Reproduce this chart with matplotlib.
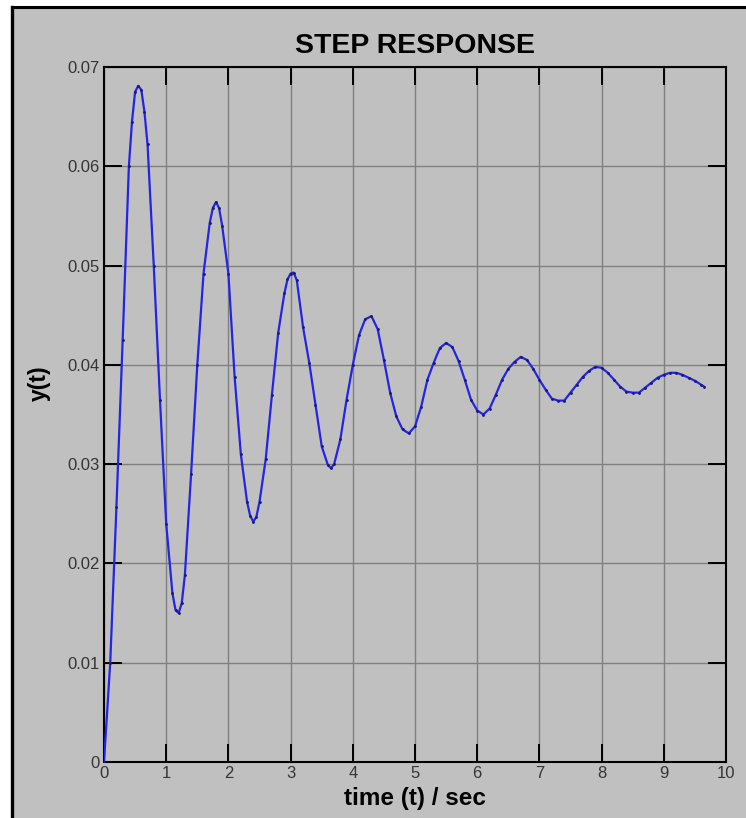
import matplotlib
matplotlib.use('Agg')
import matplotlib.pyplot as plt
from matplotlib.patches import Rectangle
from matplotlib.lines import Line2D

plt.rcParams['font.family'] = ['Liberation Sans', 'DejaVu Sans']

t = [0.0, 0.1, 0.2, 0.3, 0.4, 0.45, 0.5, 0.55, 0.6, 0.65, 0.7, 0.8, 0.9,
     1.0, 1.1, 1.15, 1.2, 1.25, 1.3, 1.4, 1.5, 1.6, 1.7, 1.75, 1.8, 1.85, 1.9,
     2.0, 2.1, 2.2, 2.3, 2.35, 2.4, 2.45, 2.5, 2.6, 2.7, 2.8, 2.9, 2.95,
     3.0, 3.05, 3.1, 3.2, 3.3, 3.4, 3.5, 3.6, 3.65, 3.7, 3.8, 3.9,
     4.0, 4.1, 4.2, 4.3, 4.4, 4.5, 4.6, 4.7, 4.8, 4.9,
     5.0, 5.1, 5.2, 5.3, 5.4, 5.5, 5.6, 5.7, 5.8, 5.9,
     6.0, 6.1, 6.2, 6.3, 6.4, 6.5, 6.6, 6.7, 6.8, 6.9,
     7.0, 7.1, 7.2, 7.3, 7.4, 7.5, 7.6, 7.7, 7.8, 7.9,
     8.0, 8.1, 8.2, 8.3, 8.4, 8.5, 8.6, 8.7, 8.8, 8.9,
     9.0, 9.1, 9.2, 9.3, 9.4, 9.5, 9.6, 9.65]
y = [0.0, 0.0100, 0.0257, 0.0425, 0.0600, 0.0645, 0.0675, 0.0681, 0.0677, 0.0655, 0.0622, 0.0500, 0.0365,
     0.0240, 0.0170, 0.0153, 0.0150, 0.0160, 0.0188, 0.0290, 0.0400, 0.0492, 0.0543, 0.0558, 0.0564, 0.0558, 0.0540,
     0.0492, 0.0388, 0.0310, 0.0262, 0.0248, 0.0242, 0.0247, 0.0262, 0.0305, 0.0370, 0.0432, 0.0472, 0.0486,
     0.0492, 0.0493, 0.0485, 0.0438, 0.0402, 0.0360, 0.0318, 0.0299, 0.0296, 0.0300, 0.0325, 0.0365,
     0.0400, 0.0430, 0.0446, 0.0449, 0.0436, 0.0405, 0.0372, 0.0348, 0.0335, 0.0331,
     0.0338, 0.0358, 0.0385, 0.0402, 0.0417, 0.0422, 0.0418, 0.0404, 0.0385, 0.0365,
     0.0354, 0.0350, 0.0356, 0.0370, 0.0385, 0.0396, 0.0403, 0.0408, 0.0405, 0.0396,
     0.0385, 0.0375, 0.0366, 0.0364, 0.0364, 0.0372, 0.0380, 0.0388, 0.0394, 0.0398,
     0.0397, 0.0392, 0.0385, 0.0378, 0.0373, 0.0372, 0.0372, 0.0377, 0.0382, 0.0387,
     0.0390, 0.0392, 0.0392, 0.0390, 0.0387, 0.0384, 0.0380, 0.0378]

x_ticks = [0, 1, 2, 3, 4, 5, 6, 7, 8, 9, 10]
y_ticks = [0, 0.01, 0.02, 0.03, 0.04, 0.05, 0.06, 0.07]
y_tick_labels = ['0', '0.01', '0.02', '0.03', '0.04', '0.05', '0.06', '0.07']

################## figure / window frame ##################################
W, H = 746, 818
fig = plt.figure(figsize=(W / 100, H / 100), dpi=100)
fig.patch.set_facecolor('white')
bg = '#c0c0c0'
fig.patches.append(Rectangle((11 / W, 0), 1 - 11 / W, 1 - 7 / H,
                             transform=fig.transFigure, facecolor=bg,
                             edgecolor='none', zorder=-5))
fig.lines.append(Line2D([12 / W, 1], [1 - 7 / H, 1 - 7 / H], transform=fig.transFigure,
                        color='black', lw=2.2, zorder=-4))
fig.lines.append(Line2D([12 / W, 12 / W], [0, 1 - 7 / H], transform=fig.transFigure,
                        color='black', lw=2.4, zorder=-4))

################## axes ###################################################
ax = fig.add_axes([104 / W, 56 / H, 622 / W, 695 / H])
ax.set_facecolor(bg)
ax.plot(t, y, '-', color='#2424e4', lw=1.6, marker='o', markersize=1.0,
        markerfacecolor='#1a1a60', markeredgecolor='#1a1a60', zorder=3)

ax.set_xlim(0, 10)
ax.set_ylim(0, 0.07)
ax.set_xticks(x_ticks)
ax.set_yticks(y_ticks)
ax.set_yticklabels(y_tick_labels)
ax.grid(True, color='#808080', lw=1.0)
ax.tick_params(direction='in', length=13, width=1.4, top=True, right=True,
               labelsize=12, labelcolor='#353535', colors='black', pad=3)
for s in ax.spines.values():
    s.set_linewidth(1.5)
    s.set_color('black')

ax.set_title('STEP RESPONSE', fontsize=20.5, fontweight='bold', pad=10)
ax.set_xlabel('time (t) / sec', fontsize=17.5, fontweight='bold', labelpad=4)
ax.set_ylabel('y(t)', fontsize=16.5, fontweight='bold')
ax.yaxis.set_label_coords(-0.085, 0.545)

fig.savefig('out.png', dpi=100, facecolor=fig.get_facecolor())
